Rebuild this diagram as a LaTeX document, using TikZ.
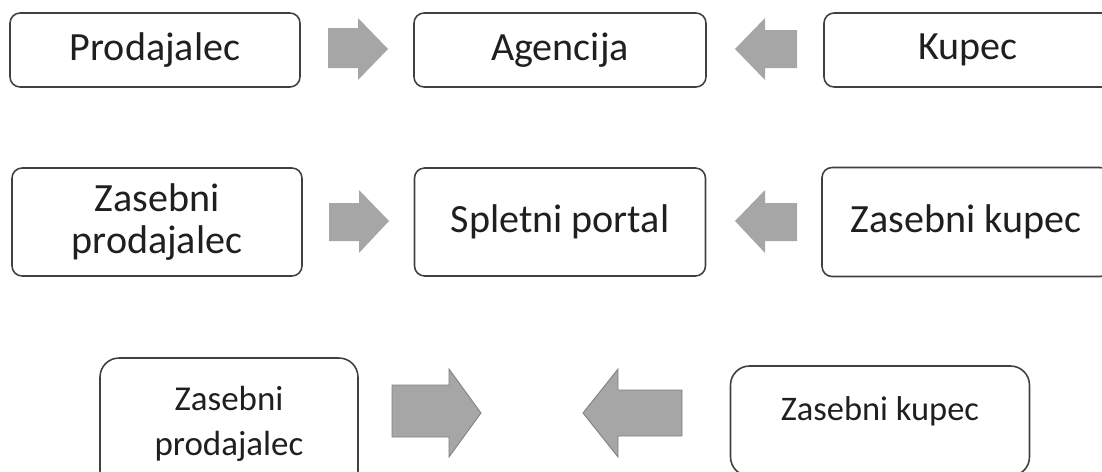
\documentclass[tikz,border=0pt]{standalone}
\usepackage{fontspec}
\setmainfont{Carlito}
\usepackage[svgnames]{xcolor}
\usepackage{tikz}

\definecolor{boxline}{HTML}{404040}
\definecolor{arrowgray}{HTML}{A6A6A6}
\definecolor{arrowline}{HTML}{808080}
\definecolor{textgray}{HTML}{1F1F1F}

\tikzset{
  box/.style={draw=boxline, line width=0.9pt, rounded corners=0.2cm, text=textgray,
    align=center, font=\fontsize{22.8}{24}\selectfont},
  lowbox/.style={box, rounded corners=0.38cm, font=\fontsize{19.9}{25.6}\selectfont},
  blockarrow/.style={fill=arrowgray},
  lowarrow/.style={fill=arrowgray, draw=arrowline, line width=0.5pt}
}

\begin{document}
\begin{tikzpicture}[x=0.02cm, y=-0.02cm]
            \useasboundingbox (0,0) rectangle (1102,471);
            \clip (0,0) rectangle (1102,471);
            % agencija
            \node[box, minimum width=5.8cm, minimum height=1.48cm] (prodajalec) at (155,50) {Prodajalec};
            \node[box, minimum width=5.84cm, minimum height=1.48cm] (agencija) at (560,50) {Agencija};
            \node[box, minimum width=5.76cm, minimum height=1.48cm] (kupec) at (968,50) {Kupec};
            \fill[blockarrow] (328,28) -- (358,28) -- (358,18) -- (388,49) -- (358,80) -- (358,68) -- (328,68) -- cycle;
            \fill[blockarrow] (797,30) -- (765,30) -- (765,18) -- (735,49) -- (765,80) -- (765,68) -- (797,68) -- cycle;
            % spletni portal
            \node[box, minimum width=5.8cm, minimum height=2.16cm] (zprodajalec) at (157,222) {Zasebni\\prodajalec};
            \node[box, minimum width=5.82cm, minimum height=2.16cm] (portal) at (560,222) {Spletni portal};
            \node[box, minimum width=5.76cm, minimum height=2.18cm] (zkupec) at (966,222) {Zasebni kupec};
            \fill[blockarrow] (329,203) -- (359,203) -- (359,190) -- (389,221) -- (359,253) -- (359,241) -- (329,241) -- cycle;
            \fill[blockarrow] (797,203) -- (765,203) -- (765,190) -- (735,221) -- (765,253) -- (765,241) -- (797,241) -- cycle;
            % neposredno
            \node[lowbox, minimum width=5.16cm, minimum height=2.64cm] (nprodajalec) at (229,424) {Zasebni\\prodajalec};
            \node[lowbox, minimum width=5.98cm, minimum height=2.2cm, text depth=0.51cm,
                  font=\fontsize{19.6}{24}\selectfont] (nkupec) at (880,421) {Zasebni kupec};
            \filldraw[lowarrow] (392,385) -- (449,385) -- (449,369) -- (481,413) -- (449,457) -- (449,437) -- (392,437) -- cycle;
            \filldraw[lowarrow] (682,390) -- (618,390) -- (618,369) -- (583,413) -- (618,457) -- (618,436) -- (682,436) -- cycle;
        \end{tikzpicture}
\end{document}
